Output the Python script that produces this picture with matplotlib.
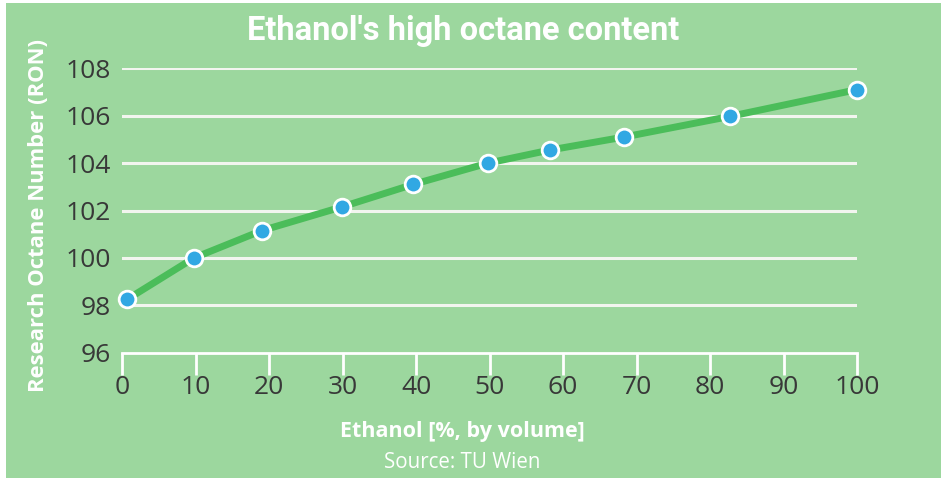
import matplotlib
matplotlib.use("Agg")
import matplotlib.pyplot as plt
from matplotlib.patches import Rectangle

# data
ethanol = [0.7, 9.8, 19.0, 29.9, 39.6, 49.8, 58.2, 68.3, 82.7, 100]
ron = [98.25, 100.0, 101.15, 102.15, 103.1, 104.0, 104.55, 105.1, 105.97, 107.1]
xticks = [0, 10, 20, 30, 40, 50, 60, 70, 80, 90, 100]
yticks = [96, 98, 100, 102, 104, 106, 108]

bg = "#9cd79e"
line_green = "#4bbd5a"
dot_blue = "#31a8e3"
txt = "#383838"

fig = plt.figure(figsize=(9.41, 4.8), dpi=100)
fig.patch.set_facecolor("white")
fig.patches.append(Rectangle((6 / 941, 2 / 480), 1 - 6 / 941, 475 / 480,
                             transform=fig.transFigure, facecolor=bg,
                             edgecolor="none", zorder=-5))

ax = fig.add_axes([122 / 941, 127.3 / 480, 735 / 941, 284.4 / 480])
ax.set_facecolor("none")
ax.set_zorder(2)

# horizontal grid
for v in yticks[1:]:
    ax.axhline(v, color="#f2f5ef", lw=2.2, zorder=1)

ax.plot(ethanol, ron, color=line_green, lw=5, zorder=2, solid_capstyle="round")
ax.plot(ethanol, ron, "o", ms=12, mfc=dot_blue, mec="white", mew=2,
        zorder=3, clip_on=False)

ax.set_xlim(0, 100)
ax.set_ylim(96, 108)
ax.set_xticks(xticks)
ax.set_yticks(yticks)
ax.set_xticklabels([str(t) for t in xticks], fontsize=19, color=txt,
                   family="Open Sans")
ax.set_yticklabels([str(t) for t in yticks], fontsize=19, color=txt,
                   family="Open Sans")

for s in ["top", "right", "left"]:
    ax.spines[s].set_visible(False)
ax.spines["bottom"].set_color("white")
ax.spines["bottom"].set_linewidth(2)
ax.tick_params(axis="x", direction="out", length=16, width=2, color="white",
               pad=0)
ax.tick_params(axis="y", length=0, pad=8)

fig.text(463 / 941, 1 - 31 / 480, "Ethanol's high octane content",
         ha="center", va="center", fontsize=23.5, fontweight="bold",
         color="white", family="Roboto")
fig.text(39 / 941, 1 - 216 / 480, "Research Octane Number (RON)",
         rotation=90, ha="center", va="center", fontsize=15.8,
         fontweight="bold", color="white", family="Open Sans")
fig.text(462 / 941, 1 - 432 / 480, "Ethanol [%, by volume]",
         ha="center", va="center", fontsize=15.5, fontweight="bold",
         color="white", family="Open Sans")
fig.text(462 / 941, 1 - 462 / 480, "Source: TU Wien",
         ha="center", va="center", fontsize=14.8, color="white",
         family="Open Sans")

fig.savefig("out.png", dpi=100, facecolor=fig.get_facecolor())
